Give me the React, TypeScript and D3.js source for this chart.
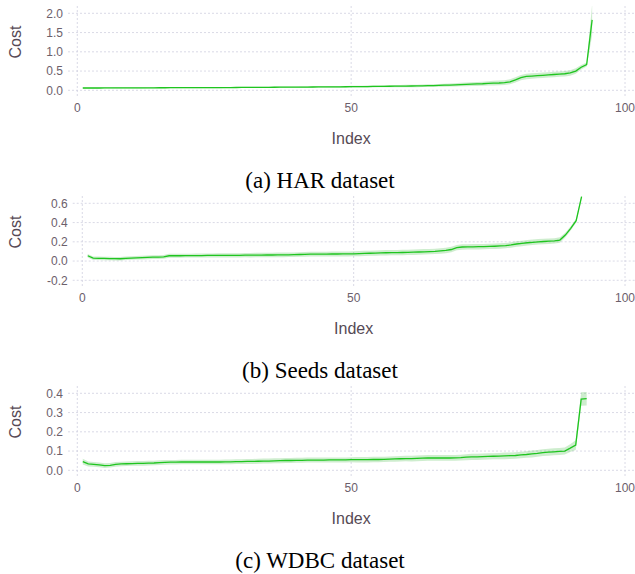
import React from "react";
import * as d3 from "d3";

// ---------- DATA ----------
const harCost: number[] = [
  0.06, 0.06, 0.06, 0.06, 0.061, 0.061, 0.062, 0.062, 0.063, 0.063,
  0.064, 0.064, 0.065, 0.065, 0.066, 0.066, 0.067, 0.067, 0.068, 0.068,
  0.069, 0.069, 0.07, 0.07, 0.071, 0.071, 0.072, 0.072, 0.073, 0.074,
  0.075, 0.075, 0.076, 0.077, 0.078, 0.079, 0.08, 0.081, 0.082, 0.083,
  0.084, 0.085, 0.086, 0.087, 0.088, 0.089, 0.09, 0.091, 0.092, 0.094,
  0.095, 0.097, 0.098, 0.1, 0.101, 0.103, 0.105, 0.107, 0.109, 0.111,
  0.112, 0.114, 0.117, 0.12, 0.123, 0.127, 0.132, 0.137, 0.143, 0.15,
  0.155, 0.16, 0.165, 0.17, 0.18, 0.185, 0.19, 0.2, 0.22, 0.27,
  0.33, 0.36, 0.37, 0.38, 0.39, 0.4, 0.41, 0.42, 0.43, 0.45,
  0.5, 0.6, 0.67, 1.83,
];
const harSpread: number[] = [
  0.014, 0.014, 0.014, 0.014, 0.014, 0.014, 0.014, 0.014, 0.014, 0.014,
  0.014, 0.014, 0.014, 0.014, 0.014, 0.014, 0.014, 0.014, 0.014, 0.014,
  0.015, 0.015, 0.015, 0.015, 0.015, 0.015, 0.015, 0.015, 0.015, 0.015,
  0.016, 0.016, 0.016, 0.016, 0.017, 0.017, 0.017, 0.018, 0.018, 0.018,
  0.019, 0.019, 0.02, 0.02, 0.02, 0.021, 0.021, 0.022, 0.022, 0.023,
  0.023, 0.024, 0.024, 0.025, 0.025, 0.026, 0.027, 0.028, 0.029, 0.03,
  0.031, 0.032, 0.033, 0.034, 0.035, 0.037, 0.039, 0.041, 0.043, 0.045,
  0.047, 0.05, 0.052, 0.055, 0.058, 0.06, 0.062, 0.064, 0.066, 0.068,
  0.07, 0.07, 0.07, 0.07, 0.07, 0.07, 0.07, 0.07, 0.07, 0.07,
  0.07, 0.06, 0.05, 0.4,
];

const seedsCost: number[] = [
  0.055, 0.03, 0.028, 0.027, 0.026, 0.025, 0.024, 0.028, 0.031, 0.034,
  0.036, 0.038, 0.04, 0.041, 0.044, 0.055, 0.055, 0.055, 0.056, 0.056,
  0.057, 0.057, 0.058, 0.058, 0.059, 0.059, 0.06, 0.06, 0.06, 0.061,
  0.061, 0.062, 0.062, 0.063, 0.063, 0.064, 0.064, 0.065, 0.066, 0.068,
  0.07, 0.071, 0.071, 0.072, 0.072, 0.073, 0.073, 0.074, 0.074, 0.075,
  0.077, 0.079, 0.081, 0.083, 0.085, 0.086, 0.087, 0.088, 0.089, 0.09,
  0.092, 0.094, 0.096, 0.098, 0.1, 0.105, 0.11, 0.12, 0.14, 0.146,
  0.147, 0.148, 0.149, 0.15, 0.152, 0.154, 0.157, 0.16, 0.167, 0.177,
  0.183, 0.19, 0.195, 0.2, 0.203, 0.206, 0.21, 0.218, 0.27, 0.34,
  0.42, 0.67,
];
const seedsSpread: number[] = [
  0.018, 0.018, 0.018, 0.018, 0.018, 0.018, 0.018, 0.018, 0.018, 0.018,
  0.019, 0.019, 0.019, 0.019, 0.019, 0.02, 0.02, 0.02, 0.02, 0.02,
  0.021, 0.021, 0.021, 0.021, 0.021, 0.022, 0.022, 0.022, 0.022, 0.022,
  0.023, 0.023, 0.023, 0.023, 0.023, 0.024, 0.024, 0.024, 0.024, 0.024,
  0.025, 0.025, 0.025, 0.025, 0.025, 0.026, 0.026, 0.026, 0.026, 0.026,
  0.027, 0.027, 0.027, 0.027, 0.027, 0.028, 0.028, 0.028, 0.028, 0.028,
  0.028, 0.028, 0.028, 0.028, 0.028, 0.028, 0.028, 0.028, 0.028, 0.028,
  0.028, 0.028, 0.028, 0.028, 0.028, 0.028, 0.028, 0.028, 0.028, 0.028,
  0.028, 0.028, 0.028, 0.028, 0.028, 0.028, 0.028, 0.028, 0.025, 0.022,
  0.02, 0.02,
];

const wdbcCost: number[] = [
  0.045, 0.033, 0.031, 0.028, 0.024, 0.026, 0.031, 0.033, 0.034, 0.035,
  0.036, 0.036, 0.037, 0.038, 0.04, 0.041, 0.042, 0.042, 0.043, 0.043,
  0.043, 0.043, 0.043, 0.043, 0.043, 0.043, 0.044, 0.044, 0.045, 0.045,
  0.046, 0.046, 0.047, 0.048, 0.048, 0.049, 0.05, 0.051, 0.051, 0.052,
  0.052, 0.053, 0.053, 0.053, 0.053, 0.054, 0.054, 0.054, 0.054, 0.055,
  0.055, 0.055, 0.055, 0.056, 0.056, 0.057, 0.058, 0.059, 0.06, 0.061,
  0.061, 0.062, 0.063, 0.064, 0.064, 0.064, 0.064, 0.064, 0.065, 0.066,
  0.068, 0.07, 0.07, 0.071, 0.072, 0.073, 0.074, 0.075, 0.076, 0.077,
  0.08, 0.082, 0.085, 0.088, 0.092, 0.094, 0.096, 0.098, 0.1, 0.115,
  0.131, 0.37, 0.372,
];
const wdbcSpread: number[] = [
  0.015, 0.013, 0.012, 0.012, 0.012, 0.012, 0.012, 0.012, 0.012, 0.012,
  0.012, 0.012, 0.012, 0.012, 0.012, 0.012, 0.012, 0.012, 0.012, 0.012,
  0.012, 0.012, 0.012, 0.012, 0.012, 0.012, 0.012, 0.012, 0.012, 0.012,
  0.013, 0.013, 0.013, 0.013, 0.013, 0.013, 0.013, 0.013, 0.013, 0.013,
  0.013, 0.013, 0.013, 0.013, 0.013, 0.013, 0.013, 0.013, 0.013, 0.013,
  0.014, 0.014, 0.014, 0.014, 0.014, 0.014, 0.014, 0.014, 0.014, 0.014,
  0.015, 0.015, 0.015, 0.015, 0.015, 0.015, 0.015, 0.015, 0.015, 0.015,
  0.016, 0.016, 0.016, 0.016, 0.016, 0.016, 0.016, 0.017, 0.017, 0.017,
  0.017, 0.017, 0.018, 0.018, 0.018, 0.018, 0.018, 0.018, 0.018, 0.02,
  0.025, 0.035, 0.035,
];

const xTicks: number[] = [0, 50, 100];
const harTicks: number[] = [0, 0.5, 1.0, 1.5, 2.0];
const seedsTicks: number[] = [-0.2, 0, 0.2, 0.4, 0.6];
const wdbcTicks: number[] = [0, 0.1, 0.2, 0.3, 0.4];

const captions: string[] = ["(a) HAR dataset", "(b) Seeds dataset", "(c) WDBC dataset"];
const xLabel = "Index";
const yLabel = "Cost";

// ---------- STYLE ----------
const LINE = "#1fc51f";
const BAND = "#3cb83c";
const GRID = "#d0d0e0";
const TICK_COLOR = "#6c606b";
const LABEL_COLOR = "#564a55";
const SANS = "'Liberation Sans', Arial, Helvetica, sans-serif";
const SERIF = "'Liberation Serif', 'Times New Roman', serif";

interface PanelSpec {
  values: number[];
  spread: number[];
  ticks: number[];
  plotLeft: number;
  x0: number;
  caption: string;
  offset: number;
}

const panels: PanelSpec[] = [
  { values: harCost, spread: harSpread, ticks: harTicks, plotLeft: 68, x0: 77.3, caption: captions[0], offset: 0 },
  { values: seedsCost, spread: seedsSpread, ticks: seedsTicks, plotLeft: 72.7, x0: 82.3, caption: captions[1], offset: 190 },
  { values: wdbcCost, spread: wdbcSpread, ticks: wdbcTicks, plotLeft: 68, x0: 77.3, caption: captions[2], offset: 380 },
];

const W = 635;
const H = 574;
const X100 = 625;

function Panel({ p, idx }: { p: PanelSpec; idx: number }) {
  const oy = p.offset;
  const top = oy + 6;
  const bottom = oy + 98;
  const x = d3.scaleLinear().domain([0, 100]).range([p.x0, X100]);
  const tMin = p.ticks[0];
  const tMax = p.ticks[p.ticks.length - 1];
  const y = d3.scaleLinear().domain([tMin, tMax]).range([oy + 90.3, oy + 13.3]);

  const pts = p.values.map((v, i) => ({ i: i + 1, v, s: p.spread[i] }));
  const line = d3
    .line<{ i: number; v: number; s: number }>()
    .x((d) => x(d.i))
    .y((d) => y(d.v));
  const area = d3
    .area<{ i: number; v: number; s: number }>()
    .x((d) => x(d.i))
    .y0((d) => y(d.v - d.s))
    .y1((d) => y(d.v + d.s));

  const clipId = `clip-${idx}`;
  const fmt = (t: number) => t.toFixed(1);
  const cx = (p.x0 + X100) / 2;

  return (
    <g>
      <defs>
        <clipPath id={clipId}>
          <rect x={p.plotLeft} y={top} width={W - p.plotLeft} height={bottom - top} />
        </clipPath>
      </defs>
      {p.ticks.map((t) => (
        <line
          key={`h${t}`}
          x1={p.plotLeft}
          x2={W}
          y1={y(t)}
          y2={y(t)}
          stroke={GRID}
          strokeWidth={0.8}
          strokeDasharray="2,2"
        />
      ))}
      {xTicks.map((t) => (
        <line
          key={`v${t}`}
          x1={x(t)}
          x2={x(t)}
          y1={top}
          y2={bottom}
          stroke={GRID}
          strokeWidth={0.8}
          strokeDasharray="2,2"
        />
      ))}
      <g clipPath={`url(#${clipId})`}>
        <path d={area(pts) || ""} fill={BAND} fillOpacity={0.25} stroke="none" />
        <path d={line(pts) || ""} fill="none" stroke={LINE} strokeWidth={1.3} />
      </g>
      {p.ticks.map((t) => (
        <text
          key={`yl${t}`}
          x={p.plotLeft - 5}
          y={y(t)}
          dy="0.35em"
          textAnchor="end"
          fontFamily={SANS}
          fontSize={12}
          fill={TICK_COLOR}
        >
          {fmt(t)}
        </text>
      ))}
      {xTicks.map((t) => (
        <text
          key={`xl${t}`}
          x={x(t)}
          y={oy + 108}
          dy="0.35em"
          textAnchor="middle"
          fontFamily={SANS}
          fontSize={12}
          fill={TICK_COLOR}
        >
          {t}
        </text>
      ))}
      <text
        x={cx}
        y={oy + 138}
        dy="0.35em"
        textAnchor="middle"
        fontFamily={SANS}
        fontSize={16}
        fill={LABEL_COLOR}
      >
        {xLabel}
      </text>
      <text
        transform={`translate(15,${oy + 42}) rotate(-90)`}
        dy="0.35em"
        textAnchor="middle"
        fontFamily={SANS}
        fontSize={16}
        fill={LABEL_COLOR}
      >
        {yLabel}
      </text>
      <text
        x={320}
        y={oy + 180}
        dy="0.35em"
        textAnchor="middle"
        fontFamily={SERIF}
        fontSize={23}
        fill="#000"
      >
        {p.caption}
      </text>
    </g>
  );
}

export default function App() {
  return (
    <svg
      width={W}
      height={H}
      viewBox={`0 0 ${W} ${H}`}
      style={{ position: "absolute", left: 0, top: 0, background: "#fff" }}
    >
      <rect x={0} y={0} width={W} height={H} fill="#fff" />
      {panels.map((p, i) => (
        <Panel key={i} p={p} idx={i} />
      ))}
    </svg>
  );
}
